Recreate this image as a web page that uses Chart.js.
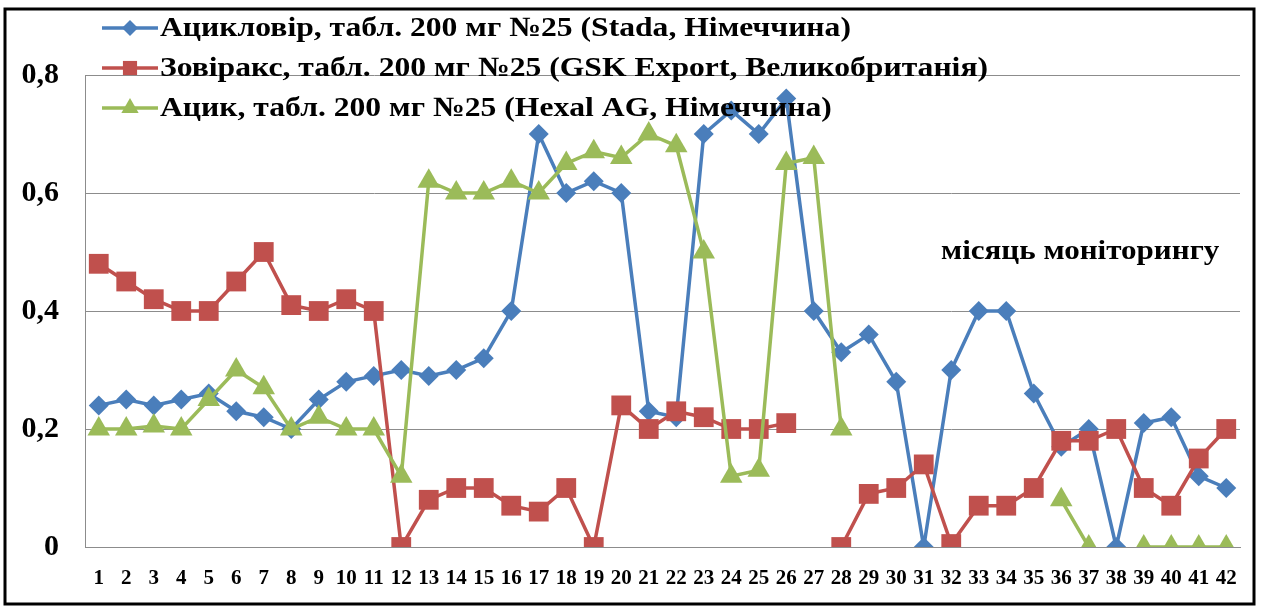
<!DOCTYPE html>
<html>
<head>
<meta charset="utf-8">
<script src="https://cdn.jsdelivr.net/npm/chart.js@4"></script>
<style>
  html, body { margin: 0; padding: 0; background: #fff; }
  canvas { display: block; }
</style>
</head>
<body>
<canvas id="chart" width="1261" height="612"></canvas>
<script>
const months = ["1","2","3","4","5","6","7","8","9","10","11","12","13","14","15","16","17","18","19","20","21",
  "22","23","24","25","26","27","28","29","30","31","32","33","34","35","36","37","38","39","40","41","42"];

const seriesNames = [
  "Ацикловір, табл. 200 мг №25 (Stada, Німеччина)",
  "Зовіракс, табл. 200 мг №25 (GSK Export, Великобританія)",
  "Ацик, табл. 200 мг №25 (Hexal AG, Німеччина)"
];

const acyclovir = [0.24, 0.25, 0.24, 0.25, 0.26, 0.23, 0.22, 0.20, 0.25, 0.28, 0.29, 0.30, 0.29, 0.30, 0.32, 0.40,
  0.70, 0.60, 0.62, 0.60, 0.23, 0.22, 0.70, 0.74, 0.70, 0.76, 0.40, 0.33, 0.36, 0.28, 0.0, 0.30, 0.40, 0.40,
  0.26, 0.17, 0.20, 0.0, 0.21, 0.22, 0.12, 0.10];

const zovirax = [0.48, 0.45, 0.42, 0.40, 0.40, 0.45, 0.50, 0.41, 0.40, 0.42, 0.40, 0.0, 0.08, 0.10, 0.10, 0.07,
  0.06, 0.10, 0.0, 0.24, 0.20, 0.23, 0.22, 0.20, 0.20, 0.21, null, 0.0, 0.09, 0.10, 0.14, 0.005, 0.07, 0.07,
  0.10, 0.18, 0.18, 0.20, 0.10, 0.07, 0.15, 0.20];

const acyk = [0.20, 0.20, 0.205, 0.20, 0.25, 0.30, 0.27, 0.20, 0.22, 0.20, 0.20, 0.12, 0.62, 0.60, 0.60, 0.62,
  0.60, 0.65, 0.67, 0.66, 0.70, 0.68, 0.50, 0.12, 0.13, 0.65, 0.66, 0.20, null, null, null, null, null, null,
  null, 0.08, 0.0, null, 0.0, 0.0, 0.0, 0.0];

const yTicks = [0, 0.2, 0.4, 0.6, 0.8];
const axisLabel = "місяць моніторингу";

const BLUE = "#4A7EBB", RED = "#C0504D", GREEN = "#9BBB59";
const FONT = "'Liberation Serif', 'Times New Roman', serif";

function drawMarker(ctx, style, x, y, r, color) {
  ctx.save();
  ctx.fillStyle = color;
  ctx.beginPath();
  if (style === "rectRot") {
    ctx.moveTo(x - r, y); ctx.lineTo(x, y - r); ctx.lineTo(x + r, y); ctx.lineTo(x, y + r);
  } else if (style === "rect") {
    const s = r * Math.SQRT1_2;
    ctx.rect(x - s, y - s, 2 * s, 2 * s);
  } else {
    ctx.moveTo(x, y - r);
    ctx.lineTo(x + r * Math.sin(2 * Math.PI / 3), y - r * Math.cos(2 * Math.PI / 3));
    ctx.lineTo(x + r * Math.sin(4 * Math.PI / 3), y - r * Math.cos(4 * Math.PI / 3));
  }
  ctx.closePath();
  ctx.fill();
  ctx.restore();
}

// text in the source is a bit wider than Liberation Serif, so stretch it a little
function wideText(ctx, text, x, y, sx) {
  ctx.save();
  ctx.translate(x, y);
  ctx.scale(sx, 1);
  ctx.fillText(text, 0, 0);
  ctx.restore();
}

const legendMarkerSize = [8, 10, 10];

const decorations = {
  id: "decorations",
  beforeDraw(chart) {
    const ctx = chart.ctx;
    ctx.save();
    ctx.fillStyle = "#fff";
    ctx.fillRect(0, 0, chart.width, chart.height);
    ctx.restore();
  },
  afterDraw(chart) {
    const ctx = chart.ctx;
    ctx.save();
    // legend
    const rows = [28, 68, 108];
    ctx.font = "bold 28px " + FONT;
    ctx.textBaseline = "middle";
    ctx.textAlign = "left";
    chart.data.datasets.forEach((ds, i) => {
      const y = rows[i];
      ctx.strokeStyle = ds.borderColor;
      ctx.lineWidth = 3.5;
      ctx.beginPath();
      ctx.moveTo(102, y); ctx.lineTo(158, y);
      ctx.stroke();
      drawMarker(ctx, ds.pointStyle, 130, y, legendMarkerSize[i], ds.borderColor);
      ctx.fillStyle = "#000";
      wideText(ctx, ds.label, 160, y + 1, 1.13);
    });
    // axis caption
    ctx.font = "bold 27px " + FONT;
    wideText(ctx, axisLabel, 941, 252, 1.15);
    // outer frame
    ctx.strokeStyle = "#000";
    ctx.lineWidth = 3;
    ctx.strokeRect(5, 9, 1249, 595);
    ctx.restore();
  }
};

new Chart(document.getElementById("chart"), {
  type: "line",
  data: {
    labels: months,
    datasets: [
      { label: seriesNames[0], data: acyclovir, borderColor: BLUE, backgroundColor: BLUE,
        pointStyle: "rectRot", pointRadius: 10, order: 3 },
      { label: seriesNames[1], data: zovirax, borderColor: RED, backgroundColor: RED,
        pointStyle: "rect", pointRadius: 14, order: 2 },
      { label: seriesNames[2], data: acyk, borderColor: GREEN, backgroundColor: GREEN,
        pointStyle: "triangle", pointRadius: 13, order: 1 }
    ].map(d => Object.assign(d, { borderWidth: 3.5, pointBorderWidth: 0, tension: 0, spanGaps: false }))
  },
  options: {
    responsive: false,
    animation: false,
    layout: { padding: { left: 0, top: 75, right: 21, bottom: 0 } },
    plugins: { legend: { display: false }, tooltip: { enabled: false } },
    scales: {
      x: {
        offset: true,
        grid: { display: false, drawTicks: false },
        border: { color: "#8c8c8c", width: 1 },
        ticks: { color: "#000", padding: 19, maxRotation: 0, autoSkip: false,
          font: { family: FONT, size: 21, weight: "bold" } },
        afterFit(scale) { scale.height = 65; }
      },
      y: {
        min: 0, max: 0.8,
        afterBuildTicks(scale) { scale.ticks = yTicks.map(v => ({ value: v })); },
        grid: { color: "#8c8c8c", lineWidth: 1, drawTicks: false },
        border: { color: "#8c8c8c", width: 1 },
        ticks: { color: "#000", padding: 26,
          font: { family: FONT, size: 30, weight: "bold" },
          callback: v => String(v === 0 ? 0 : v.toFixed(1)).replace(".", ",") },
        afterFit(scale) { scale.width = 85; }
      }
    }
  },
  plugins: [decorations]
});
</script>
</body>
</html>
